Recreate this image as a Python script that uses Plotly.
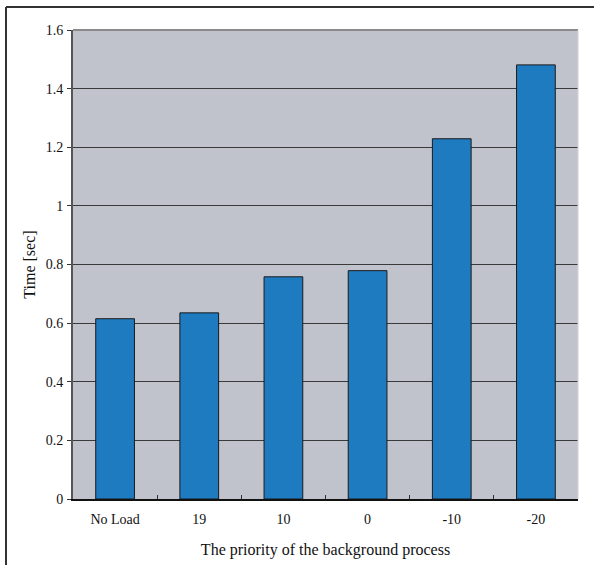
import plotly.graph_objects as go

categories = ["No Load", "19", "10", "0", "-10", "-20"]
times = [0.615, 0.635, 0.758, 0.779, 1.229, 1.481]
y_ticks = [0, 0.2, 0.4, 0.6, 0.8, 1, 1.2, 1.4, 1.6]
y_tick_labels = ["0", "0.2", "0.4", "0.6", "0.8", "1", "1.2", "1.4", "1.6"]

W, H = 594, 565
L, R, T, B = 73, 16, 30, 66
pw, ph = W - L - R, H - T - B

fig = go.Figure(go.Bar(
    x=categories, y=times, width=0.46,
    marker=dict(color="#1f7bc0", line=dict(color="#1a1a1a", width=1)),
))

font = dict(family="Liberation Serif, Times New Roman, serif", size=14, color="#111111")

fig.update_layout(
    width=W, height=H,
    margin=dict(l=L, r=R, t=T, b=B, autoexpand=False),
    paper_bgcolor="white",
    plot_bgcolor="#c0c3cc",
    font=font,
    showlegend=False,
    bargap=0.54,
    xaxis=dict(
        type="category", automargin=False,
        tickson="boundaries", ticks="inside", ticklen=4, tickcolor="#333333",
        showline=True, linecolor="#111111", linewidth=2,
        showgrid=False, mirror=False,
        ticklabelstandoff=6,
        title=dict(text="The priority of the background process", font=dict(size=16), standoff=18),
        tickfont=dict(size=14),
    ),
    yaxis=dict(
        range=[0, 1.6], tickvals=y_ticks, ticktext=y_tick_labels, automargin=False,
        ticks="outside", ticklen=4, tickcolor="#333333",
        showline=True, linecolor="#555555", linewidth=2,
        showgrid=True, gridcolor="#3a3a3a", gridwidth=1,
        zeroline=False,
        ticklabelstandoff=1,
        title=dict(text="Time [sec]", font=dict(size=16), standoff=6),
        tickfont=dict(size=14),
    ),
    shapes=[
        dict(type="line", xref="paper", yref="paper", x0=0, x1=1, y0=1, y1=1,
             line=dict(color="#8a8a8a", width=2)),
        dict(type="line", xref="paper", yref="paper", x0=1, x1=1, y0=0, y1=1,
             line=dict(color="#d0d3da", width=1)),
        dict(type="line", xref="paper", yref="paper",
             x0=(6 - L) / pw, x1=(W + 10 - L) / pw,
             y0=(H - B - 7) / ph, y1=(H - B - 7) / ph,
             line=dict(color="#333333", width=2)),
        dict(type="line", xref="paper", yref="paper",
             x0=(6 - L) / pw, x1=(6 - L) / pw,
             y0=(H - B - 7) / ph, y1=(H - B - H - 10) / ph,
             line=dict(color="#333333", width=2)),
    ],
)

fig.write_html("out.html", config={"displayModeBar": False},
               post_script="document.body.style.margin='0';")
